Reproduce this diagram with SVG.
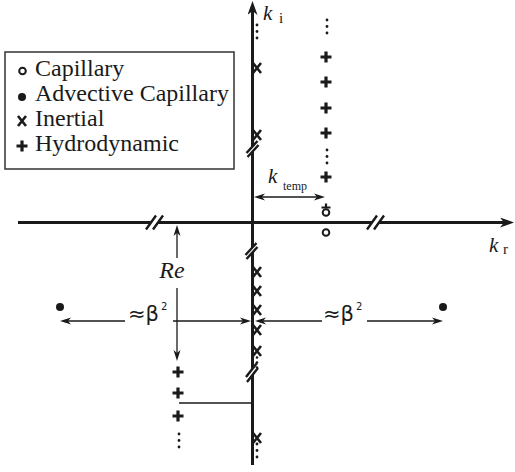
<svg xmlns="http://www.w3.org/2000/svg" xmlns:xlink="http://www.w3.org/1999/xlink" width="515" height="472" viewBox="0 0 515 472">
<defs>
<style>
.ax{stroke:#1a1a1a;stroke-width:3;fill:none}
.thin{stroke:#1a1a1a;stroke-width:1.3;fill:none}
.serif{font-family:"Liberation Serif","Times New Roman",serif;fill:#1a1a1a}
.sans{font-family:"DejaVu Sans",sans-serif;fill:#1a1a1a}
.brk{stroke:#1a1a1a;stroke-width:2.4;fill:none}
.gap{fill:#ffffff;stroke:none}
.oc{fill:none;stroke:#1a1a1a;stroke-width:2}
.dot{fill:#1a1a1a}
</style>
<marker id="axh" markerUnits="userSpaceOnUse" viewBox="0 0 14 10" refX="4" refY="5" markerWidth="14" markerHeight="10" orient="auto"><path d="M0,0 L14,5 L0,10 L4,5 z" fill="#1a1a1a"/></marker>
<marker id="th" markerUnits="userSpaceOnUse" viewBox="0 0 11 8" refX="3" refY="4" markerWidth="11" markerHeight="8" orient="auto-start-reverse"><path d="M0,0.5 L11,4 L0,7.5 L3,4 z" fill="#1a1a1a"/></marker>
<g id="xm"><path d="M-4,-5 L4,5 M4,-5 L-4,5" stroke="#1a1a1a" stroke-width="2.6" fill="none"/></g>
<g id="pl"><path d="M-5.5,0 H5.5 M0,-5.5 V5.5" stroke="#1a1a1a" stroke-width="3.2" fill="none"/></g>
<g id="vd" fill="#1a1a1a"><circle cx="0" cy="0" r="1.4"/><circle cx="0" cy="6.5" r="1.4"/><circle cx="0" cy="13" r="1.4"/></g>
</defs>
<rect x="0" y="0" width="515" height="472" fill="#ffffff"/>

<g id="legend">
<rect x="5" y="52" width="229" height="117" fill="#ffffff" stroke="#333333" stroke-width="1.5"/>
<circle cx="22.5" cy="71" r="3.3" class="oc"/>
<circle cx="22" cy="97" r="4" class="dot"/>
<use xlink:href="#xm" x="22" y="121"/>
<use xlink:href="#pl" x="22" y="146"/>
<text class="serif" x="35" y="76" font-size="24">Capillary</text>
<text class="serif" x="35" y="101" font-size="24">Advective Capillary</text>
<text class="serif" x="35" y="126" font-size="24">Inertial</text>
<text class="serif" x="35" y="151" font-size="24">Hydrodynamic</text>
</g>

<g id="axes">
<line class="ax" x1="252.5" y1="465" x2="252.5" y2="11" marker-end="url(#axh)"/>
<line class="ax" x1="18" y1="222.5" x2="504" y2="222.5" marker-end="url(#axh)"/>
<text class="serif" x="263" y="20" font-size="21" font-style="italic">k</text>
<text class="serif" x="279" y="23" font-size="15">i</text>
<text class="serif" x="489" y="252" font-size="21" font-style="italic">k</text>
<text class="serif" x="503" y="254" font-size="15">r</text>
</g>

<g id="breaks">
<path class="gap" d="M146,229.5 L156,215.5 L163,215.5 L153,229.5 z"/>
<path class="brk" d="M146,229.5 L156,215.5 M153,229.5 L163,215.5"/>
<path class="gap" d="M367,229.5 L377,215.5 L384,215.5 L374,229.5 z"/>
<path class="brk" d="M367,229.5 L377,215.5 M374,229.5 L384,215.5"/>
<path class="gap" d="M246.5,153 L257.5,141 L258.5,145 L247.5,157 z"/>
<path class="brk" d="M246.5,153 L257.5,141 M247.5,157 L258.5,145"/>
<path class="gap" d="M245.5,255 L256.5,243 L257.5,247 L246.5,259 z"/>
<path class="brk" d="M245.5,255 L256.5,243 M246.5,259 L257.5,247"/>
<path class="gap" d="M246,377 L257,363 L258,368 L247,382 z"/>
<path class="brk" d="M246,377 L257,363 M247,382 L258,368"/>
</g>

<g id="connectors">
<line class="thin" x1="262" y1="197" x2="317" y2="197" marker-start="url(#th)" marker-end="url(#th)"/>
<line class="thin" x1="177" y1="258" x2="177" y2="233" marker-end="url(#th)"/>
<line class="thin" x1="177" y1="288" x2="177" y2="353" marker-end="url(#th)"/>
<line class="thin" x1="125" y1="321" x2="68" y2="321" marker-end="url(#th)"/>
<line class="thin" x1="173" y1="321" x2="243" y2="321" marker-end="url(#th)"/>
<line class="thin" x1="322" y1="321" x2="263" y2="321" marker-end="url(#th)"/>
<line class="thin" x1="367" y1="321" x2="435" y2="321" marker-end="url(#th)"/>
<line class="thin" x1="179" y1="403" x2="252" y2="403"/>
</g>

<g id="labels">
<text class="serif" x="268" y="183" font-size="21" font-style="italic">k</text>
<text class="serif" x="283" y="190" font-size="12">temp</text>
<text class="serif" x="172" y="278" font-size="24" font-style="italic" text-anchor="middle">Re</text>
<text class="sans" x="128" y="321" font-size="21">≈β</text>
<text class="sans" x="161" y="310" font-size="10">2</text>
<text class="sans" x="323" y="321" font-size="21">≈β</text>
<text class="sans" x="356" y="310" font-size="10">2</text>
</g>

<g id="inertial">
<use xlink:href="#xm" x="257" y="68"/>
<use xlink:href="#xm" x="257" y="135"/>
<use xlink:href="#xm" x="257" y="272"/>
<use xlink:href="#xm" x="257" y="291"/>
<use xlink:href="#xm" x="257" y="310"/>
<use xlink:href="#xm" x="257" y="330"/>
<use xlink:href="#xm" x="257" y="351"/>
<use xlink:href="#xm" x="257" y="438"/>
<use xlink:href="#vd" x="257" y="25"/>
<g class="dot"><circle cx="257" cy="357.5" r="1.3"/><circle cx="257" cy="362.5" r="1.3"/><circle cx="257" cy="367.5" r="1.3"/></g>
<use xlink:href="#vd" x="257" y="444"/>
</g>

<g id="hydrodynamic">
<use xlink:href="#vd" x="327" y="20"/>
<use xlink:href="#pl" x="326" y="57"/>
<use xlink:href="#pl" x="326" y="82"/>
<use xlink:href="#pl" x="326" y="108"/>
<use xlink:href="#pl" x="326" y="133"/>
<use xlink:href="#vd" x="327" y="150"/>
<use xlink:href="#pl" x="326" y="177"/>
<use xlink:href="#pl" x="178" y="372"/>
<use xlink:href="#pl" x="178" y="393"/>
<use xlink:href="#pl" x="178" y="416"/>
<use xlink:href="#vd" x="179" y="434"/>
</g>

<g id="capillary">
<path d="M326,203.5 V207.5 M321.5,207.5 H330.5" stroke="#1a1a1a" stroke-width="2.2" fill="none"/>
<circle cx="326" cy="212.5" r="3.3" class="oc"/>
<circle cx="326" cy="232.5" r="3.3" class="oc"/>
</g>

<g id="advective">
<circle cx="60" cy="307" r="4" class="dot"/>
<circle cx="443" cy="307" r="4" class="dot"/>
</g>
</svg>
